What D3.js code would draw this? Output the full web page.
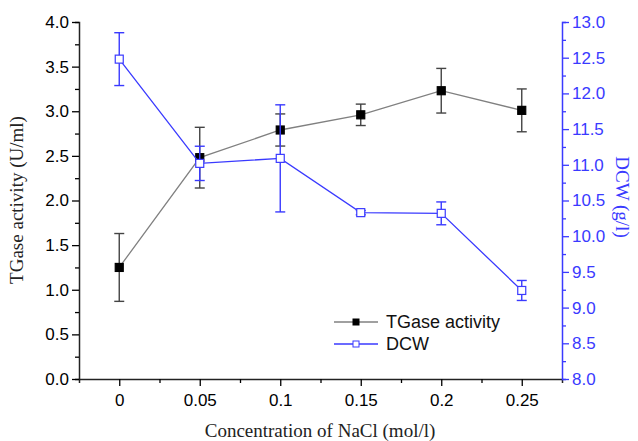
<!DOCTYPE html>
<html>
<head>
<meta charset="utf-8">
<script src="https://cdn.jsdelivr.net/npm/d3@7"></script>
<style>
  body { margin: 0; background: #fff; }
  svg { display: block; }
  .tick text { font-family: Arial, "Liberation Sans", sans-serif; font-size: 17px; }
  .title { font-family: "Times New Roman", "Liberation Serif", serif; font-size: 19px; }
</style>
</head>
<body>
<svg id="svg" width="638" height="441"></svg>
<script>
// NaCl concentrations (mol/l)
const nacl = [0, 0.05, 0.1, 0.15, 0.2, 0.25];

// TGase activity (U/ml) with error
const tgase = [1.25, 2.48, 2.79, 2.96, 3.23, 3.01];
const tgaseErr = [0.38, 0.34, 0.18, 0.12, 0.25, 0.24];

// DCW (g/l) with error
const dcw = [12.48, 11.02, 11.09, 10.33, 10.32, 9.24];
const dcwErr = [0.37, 0.24, 0.75, 0.03, 0.16, 0.14];

const xTicks = [0, 0.05, 0.1, 0.15, 0.2, 0.25];
const blue = "#3a3aff";

const svg = d3.select("svg#svg");

const margin = { left: 79, right: 562, top: 22, bottom: 379 };

const x = d3.scaleLinear().domain([-0.025, 0.275]).range([margin.left, margin.right]);
const yL = d3.scaleLinear().domain([0, 4]).range([margin.bottom, margin.top]);
const yR = d3.scaleLinear().domain([8, 13]).range([margin.bottom, margin.top]);

var translate = function(a, b) {
  return "translate(" + a + ", " + b + ")";
}

// minor ticks first, majors drawn on top
var minor = function(axis, values) {
  return axis.tickValues(values).tickSize(4).tickFormat("");
}

// bottom axis
svg.append("g")
  .attr("transform", translate(0, margin.bottom))
  .call(minor(d3.axisBottom(x), d3.range(0.025, 0.25, 0.05)));
let gx = svg.append("g")
  .attr("transform", translate(0, margin.bottom))
  .call(d3.axisBottom(x).tickValues(xTicks).tickSize(7).tickPadding(8)
    .tickFormat(d3.format("")));

// left axis
svg.append("g")
  .attr("transform", translate(margin.left, 0))
  .call(minor(d3.axisLeft(yL), d3.range(0.25, 4, 0.5)));
let gl = svg.append("g")
  .attr("transform", translate(margin.left, 0))
  .call(d3.axisLeft(yL).tickValues(d3.range(0, 4.01, 0.5)).tickSize(7).tickPadding(3)
    .tickFormat(d3.format(".1f")));

// right axis
let grMinor = svg.append("g")
  .attr("transform", translate(margin.right, 0))
  .call(minor(d3.axisRight(yR), d3.range(8.25, 13, 0.5)));
let gr = svg.append("g")
  .attr("transform", translate(margin.right, 0))
  .call(d3.axisRight(yR).tickValues(d3.range(8, 13.01, 0.5)).tickSize(7).tickPadding(3)
    .tickFormat(d3.format(".1f")));

svg.selectAll(".domain").attr("stroke-width", 1.5);
svg.selectAll(".tick line").attr("stroke-width", 1.3);
gx.select(".domain").remove();
gl.select(".domain").remove();
gr.select(".domain").remove();
svg.selectAll(".domain").attr("stroke", "#222");
grMinor.select(".domain").attr("stroke", blue);
grMinor.selectAll("line").attr("stroke", blue);
gr.selectAll("line").attr("stroke", blue);
gr.selectAll("text").attr("fill", blue);

// titles
svg.append("text")
  .attr("class", "title")
  .attr("transform", translate(23, 200) + " rotate(-90)")
  .attr("text-anchor", "middle")
  .attr("fill", "#222")
  .text("TGase activity (U/ml)");

svg.append("text")
  .attr("class", "title")
  .attr("transform", translate(616, 197) + " rotate(90)")
  .attr("text-anchor", "middle")
  .attr("fill", blue)
  .text("DCW (g/l)");

svg.append("text")
  .attr("class", "title")
  .attr("x", 320)
  .attr("y", 437)
  .attr("text-anchor", "middle")
  .attr("fill", "#222")
  .text("Concentration of NaCl (mol/l)");

// series
var drawSeries = function(vals, errs, y, opt) {
  let data = nacl.map((c, i) => ({ c: c, v: vals[i], e: errs[i] }));
  let g = svg.append("g");

  g.append("path")
    .datum(data)
    .attr("fill", "none")
    .attr("stroke", opt.line)
    .attr("stroke-width", 1.3)
    .attr("d", d3.line().x(d => x(d.c)).y(d => y(d.v)));

  let eb = g.selectAll("g.err").data(data).enter().append("g")
    .attr("stroke", opt.err)
    .attr("stroke-width", 1.4);
  eb.append("line")
    .attr("x1", d => x(d.c)).attr("x2", d => x(d.c))
    .attr("y1", d => y(d.v - d.e)).attr("y2", d => y(d.v + d.e));
  eb.append("line")
    .attr("x1", d => x(d.c) - 5).attr("x2", d => x(d.c) + 5)
    .attr("y1", d => y(d.v + d.e)).attr("y2", d => y(d.v + d.e));
  eb.append("line")
    .attr("x1", d => x(d.c) - 5).attr("x2", d => x(d.c) + 5)
    .attr("y1", d => y(d.v - d.e)).attr("y2", d => y(d.v - d.e));

  g.selectAll("rect").data(data).enter().append("rect")
    .attr("x", d => x(d.c) - opt.size / 2)
    .attr("y", d => y(d.v) - opt.size / 2)
    .attr("width", opt.size).attr("height", opt.size)
    .attr("fill", opt.fill)
    .attr("stroke", opt.stroke)
    .attr("stroke-width", 1.2);
}

drawSeries(tgase, tgaseErr, yL, { line: "#808080", err: "#444", fill: "#000", stroke: "#000", size: 8 });
drawSeries(dcw, dcwErr, yR, { line: blue, err: blue, fill: "#fff", stroke: blue, size: 8 });

// legend
const legendItems = [
  { label: "TGase activity", line: "#808080", fill: "#000", stroke: "#000" },
  { label: "DCW", line: blue, fill: "#fff", stroke: blue }
];

let legend = svg.selectAll("g.legend").data(legendItems).enter().append("g")
  .attr("class", "legend")
  .attr("transform", (d, i) => translate(334, 322 + i * 22));
legend.append("line")
  .attr("x1", 0).attr("x2", 44)
  .attr("stroke", d => d.line).attr("stroke-width", 1.3);
legend.append("rect")
  .attr("x", 19).attr("y", -3).attr("width", 6).attr("height", 6)
  .attr("fill", d => d.fill).attr("stroke", d => d.stroke);
legend.append("text")
  .attr("x", 52).attr("y", 6)
  .attr("font-family", "Arial, 'Liberation Sans', sans-serif")
  .attr("font-size", 18)
  .attr("fill", "#111")
  .text(d => d.label);
</script>
</body>
</html>
